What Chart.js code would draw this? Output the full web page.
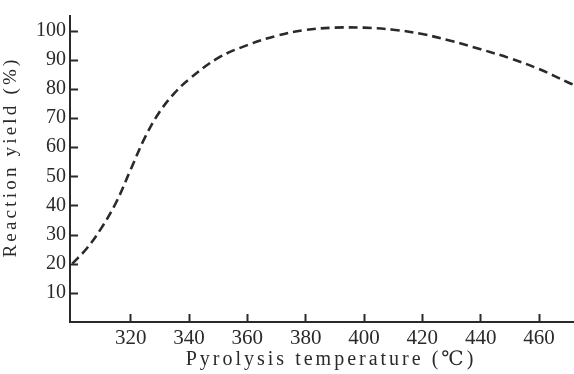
<!DOCTYPE html>
<html>
<head>
<meta charset="utf-8">
<script src="https://cdn.jsdelivr.net/npm/chart.js@4/dist/chart.umd.min.js"></script>
<style>
html,body{margin:0;padding:0;background:#fff;}
#c{display:block;}
</style>
</head>
<body>
<canvas id="c" width="574" height="374"></canvas>
<script>
// ---- data ----
const temps  = [300, 305, 310, 315, 320, 325, 330, 335, 340, 350, 360, 370, 380, 390, 400, 410, 420, 430, 440, 450, 460, 470, 472];
const yields = [20, 25.3, 32.3, 41, 52.3, 63.5, 72.2, 78.5, 83.3, 90.6, 95, 98.2, 100.2, 101, 101, 100.3, 98.8, 96.4, 93.6, 90.5, 86.8, 82.2, 81.3];
const xTickValues = [320, 340, 360, 380, 400, 420, 440, 460];
const yTickValues = [10, 20, 30, 40, 50, 60, 70, 80, 90, 100];
const xTitle = 'Pyrolysis temperature (℃)';
const yTitle = 'Reaction yield (%)';

const points = temps.map((t, i) => ({x: t, y: yields[i]}));
const serif = "'Liberation Serif', 'DejaVu Serif', serif";
const ink = '#2a2a2a';

// letter-spaced titles; y tick marks drawn inward in the y scale's own pass
const styling = {
  id: 'styling',
  afterLayout(chart) {
    const cfg = {x: {sp: '3px', dx: 9, dy: 0}, y: {sp: '3.2px', dx: 0, dy: -12}};
    for (const id of ['x', 'y']) {
      const s = chart.scales[id];
      if (!s || s._wrapped) continue;
      const origTitle = s.drawTitle;
      s.drawTitle = function () {
        const ctx = this.ctx;
        ctx.save();
        ctx.letterSpacing = cfg[id].sp;
        ctx.translate(cfg[id].dx, cfg[id].dy);
        origTitle.apply(this, arguments);
        ctx.restore();
        if (id === 'y') {
          const left = this.right;
          ctx.save();
          ctx.strokeStyle = ink;
          ctx.lineWidth = 2;
          ctx.setLineDash([]);
          ctx.beginPath();
          yTickValues.forEach(v => {
            const p = Math.round(this.getPixelForValue(v)) + 0.5;
            ctx.moveTo(left, p);
            ctx.lineTo(left + 8, p);
          });
          ctx.stroke();
          ctx.restore();
        }
      };
      s._wrapped = true;
    }
  }
};

new Chart(document.getElementById('c'), {
  type: 'line',
  data: {
    datasets: [{
      data: points,
      borderColor: ink,
      borderWidth: 2.6,
      borderDash: [9, 5],
      pointRadius: 0,
      fill: false,
      tension: 0.4
    }]
  },
  options: {
    responsive: false,
    animation: false,
    devicePixelRatio: 1,
    layout: {padding: {top: 14, right: 0, bottom: 0, left: 0}},
    plugins: {legend: {display: false}, tooltip: {enabled: false}},
    scales: {
      x: {
        type: 'linear',
        min: 299.2,
        max: 472,
        afterBuildTicks: s => { s.ticks = xTickValues.map(v => ({value: v})); },
        afterFit: s => { s.height = 52; },
        grid: {drawOnChartArea: false, drawTicks: true, tickLength: -8, tickColor: ink, tickWidth: 2},
        border: {display: true, color: ink, width: 2},
        ticks: {
          color: ink, padding: 12, maxRotation: 0, autoSkip: false,
          font: {family: serif, size: 21}
        },
        title: {
          display: true, text: xTitle, color: ink,
          font: {family: serif, size: 20}, padding: {top: 0, bottom: 2}
        }
      },
      y: {
        min: 0,
        max: 105,
        afterBuildTicks: s => { s.ticks = yTickValues.map(v => ({value: v})); },
        afterFit: s => { s.width = 70; },
        grid: {drawOnChartArea: false, drawTicks: false},
        border: {display: true, color: ink, width: 2},
        ticks: {
          color: ink, padding: 4, autoSkip: false,
          font: {family: serif, size: 20}
        },
        title: {
          display: true, text: yTitle, color: ink,
          font: {family: serif, size: 19}, padding: {top: 0, bottom: 0}
        }
      }
    }
  },
  plugins: [styling]
});
</script>
</body>
</html>
